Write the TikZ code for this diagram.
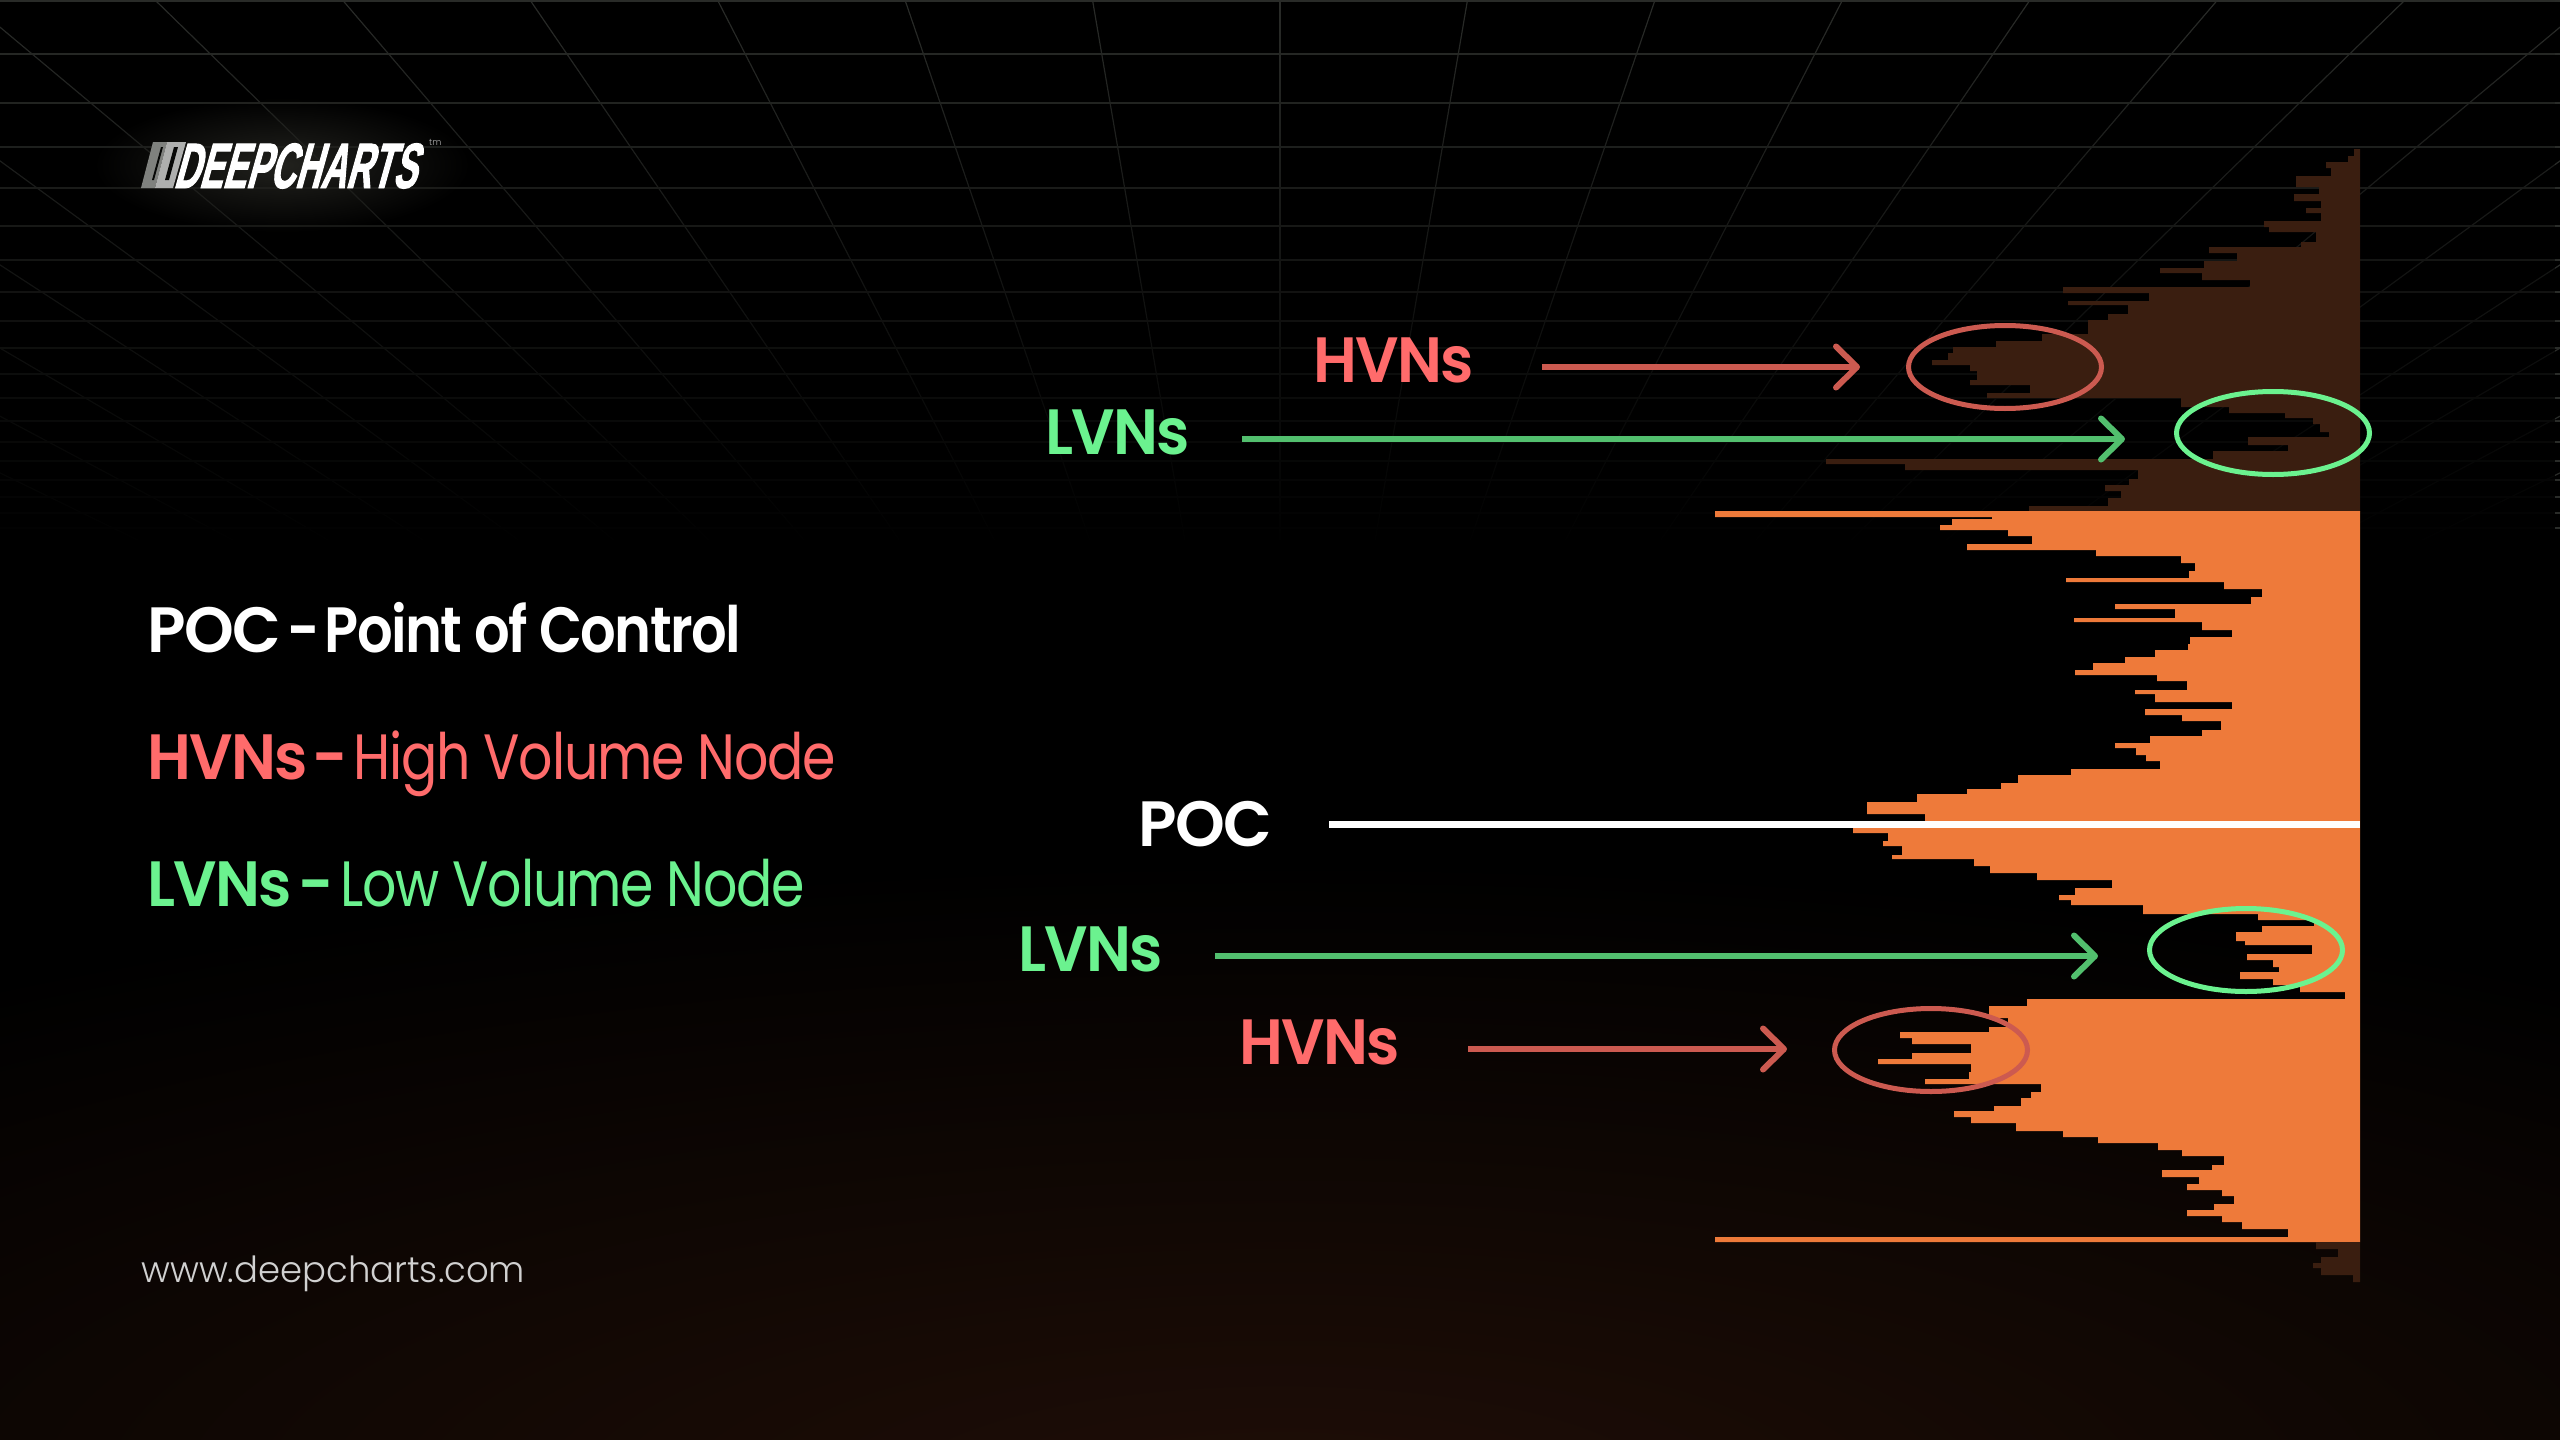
\documentclass[tikz,border=0pt]{standalone}
\usepackage{fontspec}
\usetikzlibrary{arrows.meta,fadings,shapes.geometric}
\setmainfont{Poppins}
\newfontfamily\medfont[FakeStretch=0.875,LetterSpace=-2.5]{Poppins SemiBold}
\newfontfamily\capfont[FakeStretch=0.955,LetterSpace=-2.5]{Poppins SemiBold}
\newfontfamily\pocfont[FakeStretch=0.99,LetterSpace=-2.5]{Poppins SemiBold}
\newfontfamily\lightfont[FakeStretch=0.84,LetterSpace=-2]{Poppins}
\newfontfamily\urlfont[FakeStretch=0.985]{Poppins Light}
\newfontfamily\logofont[FakeStretch=0.55,FakeSlant=0.28,FakeBold=1.5]{Liberation Sans Bold}
\definecolor{volorange}{HTML}{EE7A3A}
\definecolor{volbrown}{HTML}{3A1E10}
\definecolor{hvnred}{HTML}{FF6B6B}
\definecolor{hvnline}{HTML}{CC5A50}
\definecolor{lvngreen}{HTML}{6BF28F}
\definecolor{lvnline}{HTML}{52BF6E}
\definecolor{gridgrey}{HTML}{2A2C29}
\definecolor{floorglow}{HTML}{1F0E07}
\definecolor{logoglow}{HTML}{22221E}
\pgfdeclareradialshading{floorshade}{\pgfpoint{0bp}{0bp}}{color(0bp)=(floorglow); color(25bp)=(black); color(50bp)=(black)}
\tikzfading[name=gridfade,top color=transparent!100,bottom color=transparent!0,middle color=transparent!45]
\tikzfading[name=logofade,inner color=transparent!0,outer color=transparent!100]
\tikzset{
    gridline/.style={gridgrey, line width=1.2pt},
    bigtext/.style={anchor=base west, inner sep=0pt, font=\capfont\fontsize{64}{64}\selectfont},
    hvnring/.style={draw=hvnline, line width=5pt, ellipse, minimum width=193pt, minimum height=83pt, inner sep=0pt},
    lvnring/.style={draw=lvngreen, line width=5pt, ellipse, minimum width=193pt, minimum height=83pt, inner sep=0pt},
    hvnarrow/.style={hvnline, line width=6pt, -{Straight Barb[length=21pt,width=41pt,round]}},
    lvnarrow/.style={lvnline, line width=6pt, -{Straight Barb[length=21pt,width=41pt,round]}},
}

\begin{document}
\begin{tikzpicture}[x=1pt,y=-1pt]
        \clip (0,0) rectangle (2560,1440);
        \fill[black] (0,0) rectangle (2560,1440);
        \shade[shading=floorshade] (1280,1500) ellipse (2200 and 640);

        \draw[gridline] (0,1) -- (2560,1);
        \draw[gridline] (0,54) -- (2560,54);
        \draw[gridline] (0,103) -- (2560,103);
        \draw[gridline] (0,147) -- (2560,147);
        \draw[gridline] (0,188) -- (2560,188);
        \draw[gridline] (0,226) -- (2560,226);
        \draw[gridline] (0,260) -- (2560,260);
        \draw[gridline] (0,292) -- (2560,292);
        \draw[gridline] (0,321) -- (2560,321);
        \draw[gridline] (0,348) -- (2560,348);
        \draw[gridline] (0,374) -- (2560,374);
        \draw[gridline] (0,398) -- (2560,398);
        \draw[gridline] (0,421) -- (2560,421);
        \draw[gridline] (0,442) -- (2560,442);
        \draw[gridline] (0,461) -- (2560,461);
        \draw[gridline] (0,480) -- (2560,480);
        \draw[gridline] (0,497) -- (2560,497);
        \draw[gridline] (0,513) -- (2560,513);
        \draw[gridline] (0,528) -- (2560,528);

        \draw[gridline] (1280,0) -- (1280,540);
        \draw[gridline] (1467.5,0) -- (1375.2,540);
        \draw[gridline] (1655,0) -- (1470.4,540);
        \draw[gridline] (1842.5,0) -- (1565.6,540);
        \draw[gridline] (2030,0) -- (1660.8,540);
        \draw[gridline] (2217.5,0) -- (1756,540);
        \draw[gridline] (2405,0) -- (1851.2,540);
        \draw[gridline] (2592.5,0) -- (1946.4,540);
        \draw[gridline] (2780,0) -- (2041.6,540);
        \draw[gridline] (2967.5,0) -- (2136.8,540);
        \draw[gridline] (3155,0) -- (2232,540);
        \draw[gridline] (3342.5,0) -- (2327.2,540);
        \draw[gridline] (3530,0) -- (2422.4,540);
        \draw[gridline] (1092.5,0) -- (1184.8,540);
        \draw[gridline] (905,0) -- (1089.6,540);
        \draw[gridline] (717.5,0) -- (994.4,540);
        \draw[gridline] (530,0) -- (899.2,540);
        \draw[gridline] (342.5,0) -- (804,540);
        \draw[gridline] (155,0) -- (708.8,540);
        \draw[gridline] (-32.5,0) -- (613.6,540);
        \draw[gridline] (-220,0) -- (518.4,540);
        \draw[gridline] (-407.5,0) -- (423.2,540);
        \draw[gridline] (-595,0) -- (328,540);
        \draw[gridline] (-782.5,0) -- (232.8,540);
        \draw[gridline] (-970,0) -- (137.6,540);
        \fill[black, path fading=gridfade] (0,-1) rectangle (2560,560);

        \fill[logoglow, path fading=logofade] (282,165) ellipse (190 and 68);
        \fill[white!40!gridgrey] (141,188) -- (153,142) -- (167,142) -- (155,188) -- cycle;
        \fill[white!62!gridgrey] (155,188) -- (167,142) -- (186,142) -- (173,188) -- cycle;
        \fill[black!85!gridgrey] (152,180) -- (161,147) -- (163,147) -- (154,180) -- cycle;
        \fill[black!85!gridgrey] (165,180) -- (174,147) -- (178,147) -- (169,180) -- cycle;
        \node[anchor=base west, inner sep=0pt, white, font=\logofont\fontsize{64}{64}\selectfont] (logoText) at (173,188) {DEEPCHARTS};
        \node[anchor=base west, inner sep=0pt, white!70!black, font=\urlfont\fontsize{9}{9}\selectfont] (logoMark) at (429,145) {tm};

        \node[bigtext, white] (pocKey) at (147,652) {\pocfont POC\kern-7pt{} {\medfont -\kern-7pt{} Point of Control}};
        \node[bigtext, hvnred] (hvnKey) at (147,779) {HVNs\kern-8pt{} -\kern-8pt{} \lightfont High Volume Node};
        \node[bigtext, lvngreen] (lvnKey) at (147,906) {LVNs\kern-7pt{} -\kern-6pt{} \lightfont Low Volume Node};
        \node[anchor=base west, inner sep=0pt, white!82!black, font=\urlfont\fontsize{36}{36}\selectfont] (siteUrl) at (141,1282) {www.deepcharts.com};

        \fill[volbrown] (2360,149) -- (2354,149) |- (2348,156) |- (2326,162) |- (2331,168) |- (2296,176) |- (2319,187) |- (2294,194) |- (2321,201) |- (2306,208) |- (2321,213) |- (2264,221) |- (2269,227) |- (2316,232) |- (2301,242) |- (2209,247) |- (2237,253) |- (2204,261) |- (2160,268) |- (2202,273) |- (2250,280) |- (2063,287) |- (2149,293) |- (2068,301) |- (2128,305) |- (2108,314) |- (2088,320) |- (2042,334) |- (1996,341) |- (1953,347) |- (1948,353) |- (1932,360) |- (1970,365) |- (1977,371) |- (1970,380) |- (2030,385) |- (1987,393) |- (2181,398) |- (2229,407) |- (2285,413) |- (2313,418) |- (2320,424) |- (2329,432) |- (2248,437) |- (2288,445) |- (2213,451) |- (1826,459) |- (1905,464) |- (2138,470) |- (2129,479) |- (2105,485) |- (2121,491) |- (2108,498) |- (2029,506) |- (2360,512) -- cycle;
        \fill[volorange] (2360,511) -- (1715,511) |- (1992,517) |- (1952,519) |- (1940,525) |- (2008,530) |- (2032,536) |- (1967,544) |- (2096,550) |- (2181,556) |- (2195,563) |- (2189,571) |- (2066,578) |- (2224,582) |- (2262,589) |- (2251,597) |- (2115,604) |- (2175,609) |- (2074,618) |- (2202,622) |- (2232,630) |- (2190,637) |- (2188,644) |- (2155,650) |- (2125,657) |- (2093,663) |- (2075,670) |- (2157,675) |- (2187,681) |- (2135,690) |- (2155,694) |- (2232,702) |- (2145,709) |- (2182,715) |- (2221,721) |- (2202,730) |- (2150,736) |- (2115,743) |- (2136,748) |- (2146,755) |- (2160,761) |- (2071,769) |- (2018,775) |- (2001,783) |- (1967,789) |- (1917,794) |- (1867,802) |- (1925,814) |- (1853,828) |- (1888,833) |- (1883,841) |- (1902,846) |- (1892,855) |- (1974,859) |- (1990,866) |- (2037,873) |- (2112,880) |- (2075,888) |- (2059,895) |- (2071,900) |- (2143,905) |- (2258,914) |- (2314,920) |- (2262,926) |- (2236,932) |- (2245,941) |- (2312,945) |- (2247,954) |- (2273,960) |- (2279,967) |- (2240,972) |- (2273,979) |- (2300,985) |- (2345,992) |- (2027,999) |- (1989,1006) |- (2008,1018) |- (1989,1027) |- (1900,1032) |- (1912,1038) |- (1971,1044) |- (1912,1053) |- (1878,1059) |- (1971,1064) |- (1969,1072) |- (1925,1079) |- (2041,1084) |- (2031,1092) |- (2021,1098) |- (1994,1106) |- (1954,1111) |- (1971,1117) |- (2016,1123) |- (2063,1131) |- (2098,1137) |- (2158,1143) |- (2182,1150) |- (2224,1156) |- (2212,1165) |- (2162,1170) |- (2199,1177) |- (2187,1184) |- (2222,1190) |- (2234,1196) |- (2214,1204) |- (2187,1210) |- (2222,1216) |- (2242,1222) |- (2288,1229) |- (1715,1237) |- (2360,1242) -- cycle;
        \fill[volbrown] (2360,1242) -- (2316,1242) |- (2338,1249) |- (2321,1257) |- (2313,1263) |- (2321,1268) |- (2353,1275) |- (2360,1282) -- cycle;

        \node[hvnring] (hvnTopRing) at (2005,367) {};
        \node[lvnring] (lvnTopRing) at (2273,433) {};
        \node[lvnring] (lvnLowRing) at (2246,950) {};
        \node[hvnring] (hvnLowRing) at (1931,1050) {};

        \node[bigtext, hvnred] (hvnTopLabel) at (1313,382) {HVNs};
        \node[bigtext, lvngreen] (lvnTopLabel) at (1045,454) {LVNs};
        \node[bigtext, white, font=\pocfont\fontsize{64}{64}\selectfont] (pocLabel) at (1138,846) {POC};
        \node[bigtext, lvngreen] (lvnLowLabel) at (1018,971) {LVNs};
        \node[bigtext, hvnred] (hvnLowLabel) at (1239,1064) {HVNs};

        \coordinate (hvnTopTail) at (1542,367);
        \coordinate (hvnTopTip) at (1860,367);
        \coordinate (lvnTopTail) at (1242,439);
        \coordinate (lvnTopTip) at (2125,439);
        \coordinate (pocTail) at (1329,824.5);
        \coordinate (pocEnd) at (2360,824.5);
        \coordinate (lvnLowTail) at (1215,956);
        \coordinate (lvnLowTip) at (2098,956);
        \coordinate (hvnLowTail) at (1468,1049);
        \coordinate (hvnLowTip) at (1787,1049);

        \draw[hvnarrow] (hvnTopTail) -- (hvnTopTip);
        \draw[lvnarrow] (lvnTopTail) -- (lvnTopTip);
        \draw[white, line width=7pt] (pocTail) -- (pocEnd);
        \draw[lvnarrow] (lvnLowTail) -- (lvnLowTip);
        \draw[hvnarrow] (hvnLowTail) -- (hvnLowTip);
    \end{tikzpicture}
\end{document}
